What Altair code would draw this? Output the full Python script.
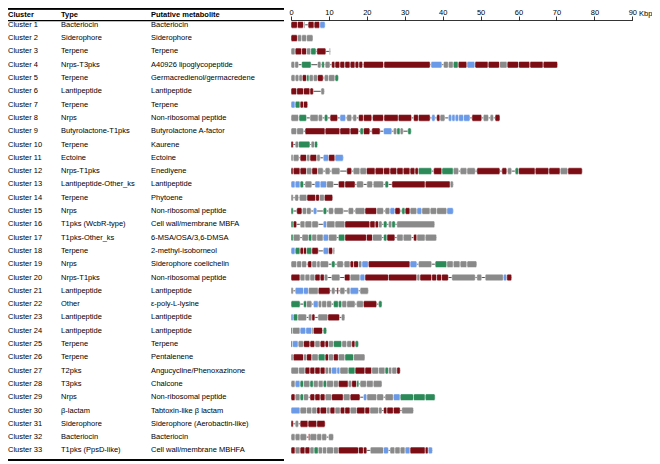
import altair as alt
import pandas as pd

# ---------------- table text ----------------
cluster_names = [f"Cluster {i}" for i in range(1, 34)]
types = [
    "Bacteriocin", "Siderophore", "Terpene", "Nrps-T3pks", "Terpene", "Lantipeptide",
    "Terpene", "Nrps", "Butyrolactone-T1pks", "Terpene", "Ectoine", "Nrps-T1pks",
    "Lantipeptide-Other_ks", "Terpene", "Nrps", "T1pks (WcbR-type)", "T1pks-Other_ks",
    "Terpene", "Nrps", "Nrps-T1pks", "Lantipeptide", "Other", "Lantipeptide",
    "Lantipeptide", "Terpene", "Terpene", "T2pks", "T3pks", "Nrps", "β-lactam",
    "Siderophore", "Bacteriocin", "T1pks (PpsD-like)",
]
metabolites = [
    "Bacteriocin", "Siderophore", "Terpene", "A40926 lipoglycopeptide",
    "Germacredienol/germacredene", "Lantipeptide", "Terpene", "Non-ribosomal peptide",
    "Butyrolactone A-factor", "Kaurene", "Ectoine", "Enediyene", "Lantipeptide",
    "Phytoene", "Non-ribosomal peptide", "Cell wall/membrane MBFA", "6-MSA/OSA/3,6-DMSA",
    "2-methyl-isoborneol", "Siderophore coelichelin", "Non-ribosomal peptide",
    "Lantipeptide", "ε-poly-L-lysine", "Lantipeptide", "Lantipeptide", "Terpene",
    "Pentalenene", "Angucycline/Phenoxazinone", "Chalcone", "Non-ribosomal peptide",
    "Tabtoxin-like β lactam", "Siderophore (Aerobactin-like)", "Bacteriocin",
    "Cell wall/membrane MBHFA",
]
headers = ["Cluster", "Type", "Putative metabolite"]
tick_values = [0, 10, 20, 30, 40, 50, 60, 70, 80, 90]

# gene categories
R, G, N, B = "core", "other", "transport", "regulatory"
kinds = [R, G, N, B]
kind_colors = ["#7c0d15", "#8a8a8a", "#2c8a59", "#6b9be8"]

# ---------------- genes (start kbp, end kbp, kind) ----------------
c1 = [(0, 1.7, R), (1.7, 3.3, R), (3.4, 3.7, G), (4.5, 6.1, R), (6.1, 7.6, R), (7.6, 9.0, B)]
c2 = [(0, 1.7, R), (1.7, 2.8, G), (2.8, 4.1, G), (4.1, 5.8, G)]
c3 = [(0, 1.1, G), (1.1, 2.8, R), (2.8, 4.1, R), (4.1, 5.2, G), (5.2, 6.6, N), (6.8, 9.2, R), (10.1, 10.4, G)]
c4 = [(0, 1.0, G), (1.0, 2.0, G), (2.8, 5.3, N), (7.0, 7.9, G), (8.1, 8.8, N), (9.0, 10.3, G),
      (10.7, 11.6, R), (11.6, 12.9, R), (12.9, 14.2, R), (14.2, 15.6, R), (15.6, 16.9, R),
      (16.9, 17.9, R), (17.9, 18.9, R), (19.1, 24.4, R), (24.5, 36.7, R), (36.9, 39.8, B),
      (40.2, 41.5, G), (41.5, 42.8, G), (42.8, 44.1, N), (44.1, 46.4, R), (46.4, 48.5, B),
      (48.5, 52.0, R), (52.0, 55.0, R), (55.0, 57.0, G), (57.0, 60.0, R), (60.0, 63.0, R),
      (63.0, 66.5, R), (66.5, 70.3, R)]
c5 = [(0, 1.1, G), (1.1, 2.1, G), (2.1, 3.0, G), (3.0, 4.1, R), (4.1, 4.8, N), (4.8, 5.9, G),
      (5.9, 7.0, G), (7.0, 8.5, R), (8.8, 9.9, G), (9.9, 11.6, G), (11.6, 12.5, N)]
c6 = [(0, 1.5, R), (1.5, 3.3, R), (3.3, 5.0, R), (5.0, 5.9, R), (7.9, 8.8, G)]
c7 = [(0, 1.1, B), (1.1, 2.4, N), (2.4, 3.3, R), (3.3, 4.4, R)]
c8 = [(0, 2.0, G), (2.1, 4.1, N), (5.0, 7.2, G), (7.2, 8.3, G), (8.8, 9.7, N), (10.3, 12.3, R),
      (12.9, 14.4, B), (14.7, 16.0, G), (16.3, 17.3, G), (17.8, 19.1, R), (19.1, 21.3, R),
      (21.5, 24.4, R), (24.5, 28.3, R), (28.3, 31.8, R), (32.3, 33.6, R), (33.6, 36.7, R),
      (37.1, 38.0, B), (38.4, 39.3, R), (39.3, 40.6, G), (41.5, 42.4, B), (42.4, 43.3, B),
      (43.3, 44.2, B), (44.2, 45.5, B), (45.5, 47.2, B), (47.7, 50.3, R), (50.7, 52.1, G),
      (52.5, 53.4, G), (53.8, 55.1, R)]
c9 = [(0, 1.5, G), (1.5, 3.3, G), (3.7, 9.0, R), (9.0, 12.9, R), (12.9, 15.6, R), (15.6, 17.8, R),
      (18.2, 19.1, N), (19.1, 20.8, R), (21.3, 23.5, R), (24.4, 26.6, B), (27.0, 27.9, G),
      (27.9, 28.8, N), (28.8, 29.6, G), (30.8, 31.7, N)]
c10 = [(0, 0.6, R), (1.1, 2.0, G), (2.0, 5.0, N), (5.3, 6.2, G), (6.2, 7.0, N)]
c11 = [(0, 0.6, G), (0.6, 2.1, G), (2.4, 4.1, R), (4.1, 5.0, G), (5.0, 6.8, R), (6.8, 7.7, G),
       (8.5, 9.9, B), (9.9, 11.6, R), (11.6, 13.8, B)]
c12 = [(0, 0.6, R), (0.6, 2.4, R), (2.4, 4.1, R), (4.1, 5.5, G), (5.5, 7.0, R), (7.0, 8.5, G),
       (9.0, 10.3, G), (10.7, 12.9, G), (14.7, 16.0, R), (16.4, 18.2, G), (18.2, 19.9, G),
       (19.9, 22.2, R), (22.2, 24.4, R), (24.4, 26.1, R), (26.1, 27.9, R), (27.9, 29.6, R),
       (29.6, 31.4, R), (31.4, 32.7, R), (32.7, 33.6, R), (33.6, 37.1, N), (37.6, 39.8, R),
       (39.8, 42.8, N), (42.8, 44.2, G), (44.6, 46.4, G), (46.4, 48.6, G), (49.0, 55.1, R),
       (55.6, 56.9, R), (57.1, 58.2, G), (59.1, 60.0, N), (60.0, 64.4, R), (64.4, 68.0, R),
       (68.0, 71.0, R), (71.0, 73.0, G), (73.0, 76.8, R)]
c13 = [(0, 1.1, B), (1.1, 2.4, B), (2.4, 3.3, N), (3.7, 5.5, G), (6.3, 7.7, B), (7.7, 9.4, B),
       (9.4, 11.2, G), (12.5, 14.2, R), (14.2, 16.9, R), (17.3, 19.1, G), (20.0, 21.5, G),
       (21.7, 24.4, G), (24.8, 25.7, N), (26.6, 35.4, R), (35.4, 42.0, R), (42.0, 42.8, G)]
c14 = [(0, 0.6, G), (1.0, 2.0, G), (2.2, 4.2, G), (4.2, 6.5, R), (6.5, 7.5, R), (7.5, 8.8, G),
       (8.8, 11.0, R)]
c15 = [(0, 0.6, N), (1.5, 2.9, R), (3.0, 4.1, G), (4.1, 5.3, G), (5.9, 6.8, B), (8.5, 9.4, N),
       (9.9, 11.2, G), (11.4, 13.8, G), (15.1, 16.5, G), (16.9, 19.5, G), (19.5, 22.6, R),
       (22.6, 24.4, G), (24.8, 26.1, G), (26.1, 27.4, B), (27.4, 28.8, R), (29.2, 30.1, N),
       (30.1, 31.4, R), (31.4, 33.2, G), (33.2, 34.5, B), (34.5, 36.7, G), (36.7, 38.4, G),
       (38.4, 41.1, G), (41.1, 42.8, B)]
c16 = [(0, 0.6, N), (0.6, 1.5, R), (2.4, 3.7, G), (3.7, 5.5, G), (5.5, 7.2, G), (8.5, 9.4, B),
       (9.4, 11.6, G), (11.6, 14.2, G), (14.2, 20.8, R), (20.8, 22.2, R), (22.2, 23.1, R),
       (23.1, 24.0, G), (24.4, 25.3, N), (25.7, 26.6, G), (26.6, 27.5, N), (27.9, 37.9, G)]
c17 = [(0, 0.6, N), (0.6, 2.4, G), (2.9, 4.6, G), (4.6, 5.5, N), (5.5, 6.8, G), (6.8, 8.5, G),
       (8.5, 9.9, B), (9.9, 12.1, G), (12.5, 14.2, N), (14.2, 19.9, R), (19.9, 21.5, R),
       (21.5, 24.0, G), (24.4, 25.3, N), (25.3, 27.4, R), (27.9, 29.6, G), (29.6, 31.8, G),
       (32.3, 33.2, R), (33.2, 35.4, G), (35.4, 38.4, G)]
c18 = [(0, 1.1, B), (1.1, 2.4, N), (2.4, 3.3, R), (3.3, 4.1, R), (4.1, 5.5, N), (5.5, 7.2, R),
       (8.5, 9.9, B), (9.9, 11.0, R), (11.1, 11.5, G)]
c19 = [(0, 1.5, G), (1.5, 2.8, G), (2.8, 4.1, G), (4.4, 5.5, R), (5.5, 6.8, G), (6.8, 7.7, G),
       (7.7, 9.9, G), (10.7, 11.6, N), (12.1, 13.8, G), (14.0, 15.6, G), (15.6, 16.5, R),
       (16.5, 17.8, R), (17.8, 18.7, G), (18.7, 20.4, B), (20.4, 31.4, R), (31.4, 33.2, B),
       (33.6, 37.1, G), (38.0, 41.1, N), (41.1, 42.8, G), (42.8, 44.6, G), (44.6, 46.4, G),
       (46.4, 49.0, G)]
c20 = [(0, 2.4, R), (2.4, 3.7, G), (3.7, 5.0, G), (5.0, 6.3, G), (6.3, 7.7, R), (7.7, 8.8, R),
       (8.8, 9.7, G), (10.7, 12.9, G), (14.1, 15.6, R), (15.6, 18.2, G), (18.2, 19.5, B),
       (19.5, 25.7, R), (25.7, 33.2, R), (33.2, 34.0, G), (34.0, 37.1, R), (37.1, 38.4, R),
       (38.4, 39.7, R), (39.7, 41.5, R), (42.4, 48.6, G), (49.0, 50.3, G), (51.2, 56.0, G),
       (56.0, 56.9, B), (56.9, 58.2, R)]
c21 = [(0, 0.6, G), (1.1, 3.3, B), (3.3, 4.6, B), (4.6, 7.2, G), (7.2, 10.3, R), (10.7, 11.6, G),
       (12.1, 12.5, R), (12.9, 14.2, G), (14.7, 15.6, G), (15.6, 17.8, B), (18.2, 20.4, G)]
c22 = [(0, 2.4, N), (3.3, 4.1, N), (4.1, 5.5, G), (5.9, 7.2, B), (7.2, 8.1, G), (8.1, 9.4, G),
       (9.4, 10.7, G), (11.2, 12.5, N), (12.5, 13.4, N), (13.4, 14.7, G), (14.7, 16.9, G),
       (17.3, 19.1, G), (19.1, 22.6, R), (23.1, 24.0, N)]
c23 = [(0, 0.6, B), (0.6, 1.8, N), (1.8, 4.1, G), (4.6, 5.5, G), (5.5, 6.3, R), (7.1, 9.7, G),
       (9.7, 12.8, R), (13.3, 14.2, G)]
c24 = [(0, 0.4, N), (0.4, 2.4, G), (2.4, 3.9, B), (3.9, 5.5, B), (5.5, 5.9, G), (5.9, 8.3, R),
       (8.5, 9.4, N)]
c25 = [(0, 0.4, N), (0.4, 1.9, B), (1.9, 3.3, G), (3.3, 5.0, R), (5.0, 6.3, R), (6.3, 7.7, G),
       (7.7, 9.0, R), (9.0, 9.9, R), (9.9, 11.2, G), (11.2, 13.4, N), (13.4, 14.7, G),
       (14.7, 16.0, G), (16.0, 16.9, R), (16.9, 17.8, N)]
c26 = [(0, 0.6, G), (0.6, 3.3, R), (3.3, 4.1, G), (4.1, 5.5, R), (5.5, 7.2, G), (7.2, 9.0, N),
       (9.0, 9.9, R), (9.9, 11.2, G), (11.2, 12.5, R), (12.5, 14.2, G), (14.2, 16.5, N),
       (16.5, 19.5, G)]
c27 = [(0, 2.0, G), (2.0, 3.7, G), (3.7, 5.0, R), (5.0, 6.3, R), (6.3, 7.7, R), (7.7, 9.0, R),
       (9.0, 9.9, G), (9.9, 10.7, G), (10.7, 12.1, B), (12.1, 12.9, B), (12.9, 15.1, G),
       (15.1, 16.9, N), (16.9, 19.5, R), (19.5, 21.3, R), (21.3, 23.1, G), (23.1, 24.8, G),
       (24.8, 25.7, N), (25.7, 26.6, G), (26.6, 27.9, G), (27.9, 28.8, R)]
c28 = [(0, 1.1, G), (1.1, 2.4, B), (2.4, 3.3, N), (3.3, 5.0, G), (5.0, 5.9, N), (5.9, 7.2, G),
       (7.2, 8.5, G), (8.5, 9.4, N), (9.4, 11.2, G), (11.2, 12.5, G), (12.5, 15.1, R),
       (15.1, 16.0, G), (16.0, 17.3, R), (17.3, 17.9, N), (18.2, 19.9, G), (19.9, 21.7, G),
       (21.7, 24.0, G)]
c29 = [(0, 1.1, R), (1.1, 2.4, G), (2.4, 3.3, N), (3.3, 4.6, G), (5.0, 6.3, R), (6.3, 7.7, R),
       (7.7, 9.0, R), (9.0, 10.7, G), (10.7, 13.8, R), (13.8, 15.6, G), (15.6, 18.2, R),
       (19.1, 20.0, B), (20.0, 22.6, G), (22.6, 24.4, G), (24.8, 27.0, G), (27.0, 28.8, B),
       (28.8, 32.3, N), (32.3, 35.4, N), (35.4, 38.0, N)]
c30 = [(0, 2.4, B), (2.4, 4.1, G), (4.1, 5.5, G), (5.5, 6.8, G), (6.8, 7.7, R), (7.7, 9.4, R),
       (9.4, 10.3, G), (10.3, 11.6, R), (11.6, 13.0, G), (13.0, 14.2, R), (14.2, 15.6, R),
       (15.6, 17.3, G), (17.3, 19.5, R), (19.5, 20.8, R), (20.8, 23.1, G), (23.1, 24.0, G),
       (24.4, 25.3, R), (25.3, 27.0, R), (27.0, 28.8, R), (29.2, 32.3, G)]
c31 = [(0, 0.6, R), (1.1, 2.0, G), (2.4, 4.5, R), (4.5, 6.8, R), (6.8, 9.0, R)]
c32 = [(0, 1.1, G), (1.1, 2.4, G), (2.4, 4.1, G), (4.6, 5.0, R), (5.0, 6.8, G), (6.8, 8.1, G),
       (8.1, 9.4, G), (9.9, 11.2, G)]
c33 = [(0, 1.1, R), (1.1, 2.4, G), (2.4, 3.7, R), (3.7, 5.0, R), (5.0, 6.1, G), (6.1, 7.2, N),
       (7.2, 8.3, G), (8.3, 9.4, G), (9.4, 11.2, G), (11.2, 12.5, G), (12.5, 17.8, R),
       (17.8, 19.1, R), (19.1, 20.0, R), (20.9, 24.4, G), (24.4, 25.7, B), (26.1, 27.4, G),
       (27.4, 28.8, G), (28.8, 30.1, G), (30.1, 31.4, B), (31.4, 35.4, R), (35.4, 36.2, R),
       (36.2, 37.3, B)]

clusters = [c1, c2, c3, c4, c5, c6, c7, c8, c9, c10, c11, c12, c13, c14, c15, c16, c17,
            c18, c19, c20, c21, c22, c23, c24, c25, c26, c27, c28, c29, c30, c31, c32, c33]

# ---------------- tables for the library ----------------
gene_rows = []
for i, genes in enumerate(clusters, start=1):
    for s, e, k in genes:
        gene_rows.append({"row": i, "start": s, "end": e, "kind": k})
genes_df = pd.DataFrame(gene_rows)
backbone_df = (genes_df.groupby("row")
               .agg(start=("start", "min"), end=("end", "max")).reset_index())
table_df = pd.DataFrame({"row": list(range(1, 34)), "cluster": cluster_names,
                         "type": types, "metabolite": metabolites})

FONT = "Liberation Sans, Arial, Helvetica, sans-serif"
FS = 7.5
W, H = 644, 456

x_scale = alt.Scale(domain=[0, 90], range=[283, 624.3], nice=False, zero=False)
y_scale = alt.Scale(domain=[1, 33], range=[16.8, 442.4], nice=False, zero=False)
x_axis = alt.Axis(orient="top", offset=-12, values=tick_values, title=None, grid=False,
                  domainColor="black", domainWidth=0.8, tickColor="black", tickWidth=0.8,
                  tickSize=4, labelPadding=0, labelFont=FONT, labelFontSize=FS,
                  labelColor="black", labelFlush=False, labelOverlap=False)

backbone = alt.Chart(backbone_df).mark_rule(color="black", strokeWidth=0.7).encode(
    x=alt.X("start:Q", scale=x_scale, axis=x_axis),
    x2="end:Q",
    y=alt.Y("row:Q", scale=y_scale, axis=None),
)

genes = alt.Chart(genes_df).transform_calculate(
    y0="datum.row - 0.25", y1="datum.row + 0.25"
).mark_rect(cornerRadius=1.5, stroke="white", strokeWidth=0.5).encode(
    x=alt.X("start:Q", scale=x_scale, axis=x_axis),
    x2="end:Q",
    y=alt.Y("y0:Q", scale=y_scale, axis=None),
    y2="y1:Q",
    color=alt.Color("kind:N", scale=alt.Scale(domain=kinds, range=kind_colors), legend=None),
)

col_x = [0, 53, 143]


def col_text(field, xpos):
    return alt.Chart(table_df).mark_text(
        align="left", baseline="middle", font=FONT, fontSize=FS, color="black"
    ).encode(x=alt.value(xpos), y=alt.Y("row:Q", scale=y_scale, axis=None),
             text=f"{field}:N")


header_df = pd.DataFrame({"label": headers})


def head_text(label, xpos):
    return alt.Chart(header_df).transform_filter(
        alt.datum.label == label
    ).mark_text(
        align="left", baseline="middle", font=FONT, fontSize=FS, fontWeight="bold", color="black"
    ).encode(x=alt.value(xpos), y=alt.value(6.5), text="label:N")


top_line = alt.Chart(header_df).mark_rule(color="black", strokeWidth=1.4).encode(
    x=alt.value(0), x2=alt.value(276), y=alt.value(0.8))
head_line = alt.Chart(header_df).mark_rule(color="black", strokeWidth=1.0).encode(
    x=alt.value(0), x2=alt.value(276), y=alt.value(12.6))
bottom_line = alt.Chart(header_df).mark_rule(color="black", strokeWidth=1.4).encode(
    x=alt.value(0), x2=alt.value(276), y=alt.value(452))

kbp = alt.Chart(pd.DataFrame({"t": ["Kbp"]})).mark_text(
    align="left", baseline="alphabetic", font=FONT, fontSize=FS, color="black"
).encode(x=alt.value(631), y=alt.value(8), text="t:N")

chart = alt.layer(
    backbone, genes,
    col_text("cluster", col_x[0]), col_text("type", col_x[1]), col_text("metabolite", col_x[2]),
    head_text(headers[0], col_x[0]), head_text(headers[1], col_x[1]),
    head_text(headers[2], col_x[2]),
    top_line, head_line, bottom_line, kbp,
).properties(
    width=W, height=H, padding=0, autosize=alt.AutoSizeParams(type="none"),
).configure_view(stroke=None)

chart.save("out.html", embed_options={"renderer": "svg", "actions": False})
